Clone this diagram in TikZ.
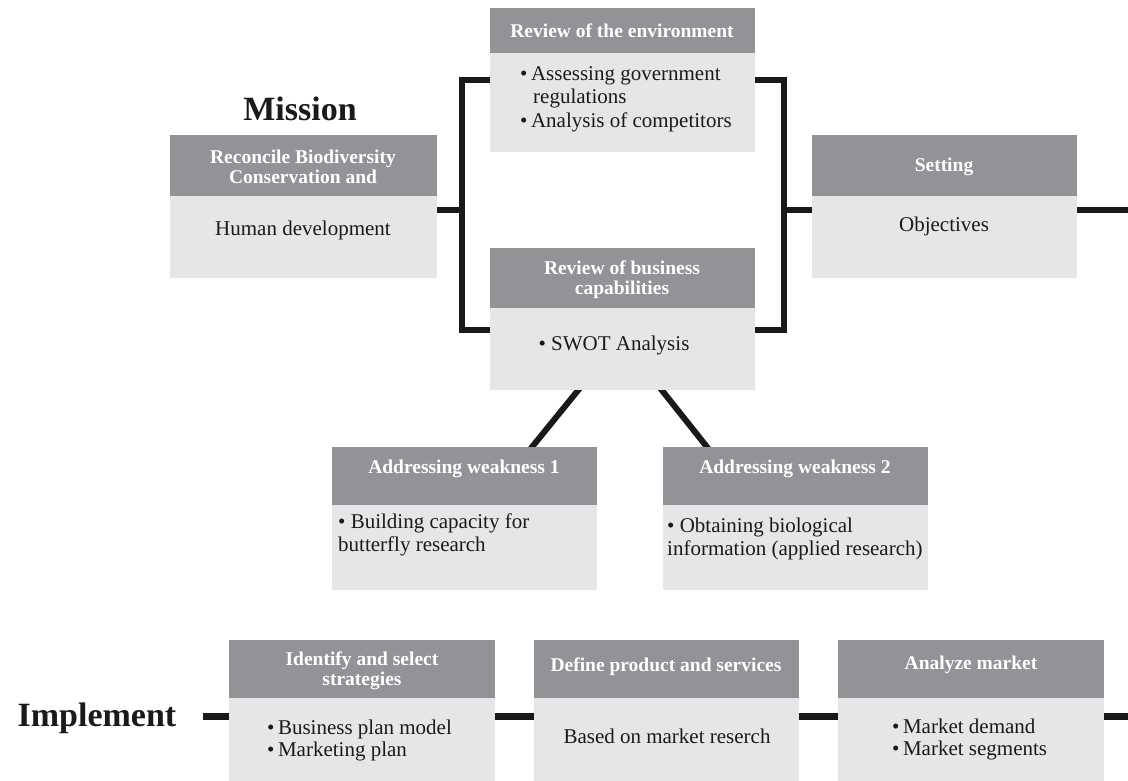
\documentclass[tikz,border=0pt]{standalone}
\usepackage{fontspec}
\setmainfont{Liberation Serif}
\usetikzlibrary{backgrounds}
\definecolor{hdrgray}{HTML}{939296}
\definecolor{bodygray}{HTML}{E6E6E6}
\definecolor{txtcol}{HTML}{1A1A1A}
\begin{document}
\begin{tikzpicture}[x=1pt,y=-1pt,
  hdr/.style={fill=hdrgray, draw=none, inner sep=0pt, anchor=north west},
  bdy/.style={fill=bodygray, draw=none, inner sep=0pt, anchor=north west},
  htxt/.style={text=white, font=\fontsize{19.5}{20}\selectfont\bfseries, align=center, inner sep=0pt},
  btxt/.style={text=txtcol, font=\fontsize{21}{23}\selectfont, inner sep=0pt},
  bigtxt/.style={text=txtcol, font=\fontsize{34}{36}\selectfont\bfseries, inner sep=0pt, anchor=base},
  conn/.style={line width=6pt, line join=miter, draw=black!90},
  connb/.style={line width=7pt, draw=black!90}]
\useasboundingbox (0,0) rectangle (1128,781);

% ---- boxes ----
\node[hdr, minimum width=267pt, minimum height=61pt] (aH) at (170,135) {};
\node[bdy, minimum width=267pt, minimum height=82pt] (aB) at (170,196) {};
\node[hdr, minimum width=265pt, minimum height=45pt] (envH) at (490,8) {};
\node[bdy, minimum width=265pt, minimum height=99pt] (envB) at (490,53) {};
\node[hdr, minimum width=265pt, minimum height=60pt] (busH) at (490,248) {};
\node[bdy, minimum width=265pt, minimum height=82pt] (busB) at (490,308) {};
\node[hdr, minimum width=265pt, minimum height=61pt] (setH) at (812,135) {};
\node[bdy, minimum width=265pt, minimum height=82pt] (setB) at (812,196) {};
\node[hdr, minimum width=265pt, minimum height=58pt] (w1H) at (332,447) {};
\node[bdy, minimum width=265pt, minimum height=85pt] (w1B) at (332,505) {};
\node[hdr, minimum width=265pt, minimum height=58pt] (w2H) at (663,447) {};
\node[bdy, minimum width=265pt, minimum height=85pt] (w2B) at (663,505) {};
\node[hdr, minimum width=266pt, minimum height=58pt] (idH) at (229,640) {};
\node[bdy, minimum width=266pt, minimum height=83pt] (idB) at (229,698) {};
\node[hdr, minimum width=265pt, minimum height=58pt] (defH) at (534,640) {};
\node[bdy, minimum width=265pt, minimum height=83pt] (defB) at (534,698) {};
\node[hdr, minimum width=266pt, minimum height=58pt] (anaH) at (838,640) {};
\node[bdy, minimum width=266pt, minimum height=83pt] (anaB) at (838,698) {};

% ---- big labels ----
\node[bigtxt] (mission) at (300,121) {Mission};
\node[bigtxt] (implement) at (97,726) {Implement};

% ---- header texts ----
\node[htxt] (aHt) at (303,167) {Reconcile Biodiversity\\Conservation and};
\node[htxt] (envHt) at (622,31) {Review of the environment};
\node[htxt] (busHt) at (622,280) {Review of business\\capabilities};
\node[htxt] (setHt) at (944,167) {Setting};
\node[htxt] (w1Ht) at (464,469) {Addressing weakness 1};
\node[htxt] (w2Ht) at (795,469) {Addressing weakness 2};
\node[htxt] (idHt) at (362,671) {Identify and select\\strategies};
\node[htxt] (defHt) at (666,667) {Define product and services};
\node[htxt] (anaHt) at (971,665) {Analyze market};

% ---- body texts ----
\node[btxt, anchor=base] (aBt) at (303,235) {Human development};
\node[btxt, anchor=base west] (envB1) at (520,81) {•\,Assessing government};
\node[btxt, anchor=base west] (envB2) at (533,104) {regulations};
\node[btxt, anchor=base west] (envB3) at (520,128) {•\,Analysis of competitors};
\node[btxt, anchor=base] (busBt) at (614,350) {•\ SWOT Analysis};
\node[btxt, anchor=base] (setBt) at (944,231) {Objectives};
\node[btxt, anchor=base west] (w1B1) at (338,528) {•\ Building capacity for};
\node[btxt, anchor=base west] (w1B2) at (338,551) {butterfly research};
\node[btxt, anchor=base west] (w2B1) at (667,532) {•\ Obtaining biological};
\node[btxt, anchor=base west] (w2B2) at (667,555) {information (applied research)};
\node[btxt, anchor=base west] (idB1) at (267,734) {•\,Business plan model};
\node[btxt, anchor=base west] (idB2) at (267,756) {•\,Marketing plan};
\node[btxt, anchor=base] (defBt) at (667,743) {Based on market reserch};
\node[btxt, anchor=base west] (anaB1) at (892,733) {•\,Market demand};
\node[btxt, anchor=base west] (anaB2) at (892,755) {•\,Market segments};

% ---- helper coordinates ----
\coordinate (ltop) at (462,80);
\coordinate (lmid) at (462,210);
\coordinate (lbot) at (462,330);
\coordinate (rtop) at (784,80);
\coordinate (rmid) at (784,210);
\coordinate (rbot) at (784,330);
\coordinate (rend) at (1128,210);
\coordinate (d1a) at (578,0);
\coordinate (d1b) at (532,0);
\coordinate (d2a) at (662,0);
\coordinate (d2b) at (707,0);
\coordinate (imp) at (203,716);
\coordinate (bend) at (1128,716);

% ---- connectors ----
\begin{pgfonlayer}{background}
\draw[conn] ([xshift=6pt]envB.west |- ltop) -- (ltop) -- (lbot) -- ([xshift=6pt]busB.west |- lbot);
\draw[conn] ([xshift=-4pt]aB.east |- lmid) -- (lmid);
\draw[conn] ([xshift=-6pt]envB.east |- rtop) -- (rtop) -- (rbot) -- ([xshift=-6pt]busB.east |- rbot);
\draw[conn] (rmid) -- ([xshift=4pt]setB.west |- rmid);
\draw[conn] ([xshift=-4pt]setB.east |- rend) -- (rend);
\draw[conn, shorten <=-6pt, shorten >=-6pt] (busB.south -| d1a) -- (w1H.north -| d1b);
\draw[conn, shorten <=-6pt, shorten >=-6pt] (busB.south -| d2a) -- (w2H.north -| d2b);
\draw[connb] (imp) -- ([xshift=4pt]idB.west |- imp);
\draw[connb] ([xshift=-4pt]idB.east |- imp) -- ([xshift=4pt]defB.west |- imp);
\draw[connb] ([xshift=-4pt]defB.east |- imp) -- ([xshift=4pt]anaB.west |- imp);
\draw[connb] ([xshift=-4pt]anaB.east |- imp) -- (bend);
\end{pgfonlayer}
\end{tikzpicture}
\end{document}
